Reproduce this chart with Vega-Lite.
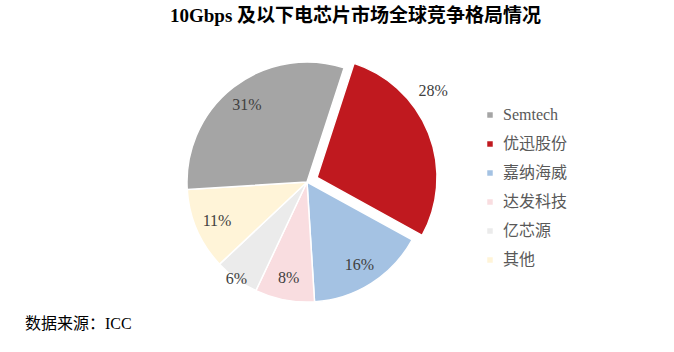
{
  "$schema": "https://vega.github.io/schema/vega-lite/v6.json",
  "padding": {"top": 6, "left": 0, "right": 0, "bottom": 0},
  "background": "white",
  "title": {
    "text": "10Gbps 及以下电芯片市场全球竞争格局情况",
    "font": "Liberation Serif, Noto Sans CJK SC",
    "fontSize": 19,
    "fontWeight": "bold",
    "color": "#000000",
    "anchor": "start",
    "dx": 170,
    "offset": 5
  },
  "data": {
    "values": [
      {"company": "优迅股份", "share": 0.28, "idx": 1},
      {"company": "嘉纳海威", "share": 0.16, "idx": 2},
      {"company": "达发科技", "share": 0.08, "idx": 3},
      {"company": "亿芯源", "share": 0.06, "idx": 4},
      {"company": "其他", "share": 0.11, "idx": 5},
      {"company": "Semtech", "share": 0.31, "idx": 6}
    ]
  },
  "vconcat": [
    {
      "width": 614,
      "height": 250,
      "title": {
        "text": "数据来源：ICC",
        "orient": "bottom",
        "anchor": "start",
        "dx": 25,
        "offset": 8,
        "font": "Liberation Serif, Noto Sans CJK SC",
        "fontSize": 16,
        "fontWeight": "normal",
        "color": "#000000"
      },
      "encoding": {
        "theta": {"field": "share", "type": "quantitative", "stack": true, "scale": {"range": [0.31416, 6.59734]}},
        "order": {"field": "idx", "type": "quantitative"}
      },
      "layer": [
        {
          "mark": {"type": "arc", "outerRadius": 120, "stroke": "white", "strokeWidth": 1.5},
          "encoding": {
            "color": {
              "field": "company",
              "type": "nominal",
              "scale": {
                "domain": ["Semtech", "优迅股份", "嘉纳海威", "达发科技", "亿芯源", "其他"],
                "range": ["#A5A5A5", "#C0191F", "#A4C2E3", "#F9DDE0", "#EBEBEB", "#FFF4D8"]
              },
              "legend": {
                "orient": "none",
                "legendX": 482,
                "legendY": 50,
                "title": null,
                "padding": 0,
                "symbolType": "square",
                "symbolSize": 30,
                "symbolStrokeWidth": 0,
                "labelFont": "Liberation Serif, Noto Sans CJK SC",
                "labelFontSize": 16,
                "labelColor": "#595959",
                "rowPadding": 13,
                "labelOffset": 5
              }
            },
            "opacity": {"condition": {"test": "datum.company === '优迅股份'", "value": 0}, "value": 1}
          }
        },
        {
          "mark": {"type": "arc", "outerRadius": 120, "stroke": "white", "strokeWidth": 1.5, "xOffset": 10, "yOffset": -4.5},
          "encoding": {
            "color": {"field": "company", "type": "nominal"},
            "opacity": {"condition": {"test": "datum.company === '优迅股份'", "value": 1}, "value": 0}
          }
        },
        {
          "mark": {"type": "text", "radius": 98, "font": "Liberation Serif", "fontSize": 16, "color": "#404040", "align": "center", "baseline": "middle"},
          "encoding": {
            "detail": {"field": "company", "type": "nominal"},
            "text": {"field": "share", "type": "quantitative", "format": ".0%"},
            "opacity": {"condition": {"test": "datum.company === 'Semtech' || datum.company === '其他' || datum.company === '嘉纳海威' || datum.company === '达发科技'", "value": 1}, "value": 0}
          }
        },
        {
          "mark": {"type": "text", "radius": 120, "font": "Liberation Serif", "fontSize": 16, "color": "#404040", "align": "center", "baseline": "middle"},
          "encoding": {
            "detail": {"field": "company", "type": "nominal"},
            "text": {"field": "share", "type": "quantitative", "format": ".0%"},
            "opacity": {"condition": {"test": "datum.company === '亿芯源'", "value": 1}, "value": 0}
          }
        },
        {
          "mark": {"type": "text", "radius": 125, "xOffset": 10, "yOffset": -44.5, "font": "Liberation Serif", "fontSize": 16, "color": "#404040", "align": "center", "baseline": "middle"},
          "encoding": {
            "detail": {"field": "company", "type": "nominal"},
            "text": {"field": "share", "type": "quantitative", "format": ".0%"},
            "opacity": {"condition": {"test": "datum.company === '优迅股份'", "value": 1}, "value": 0}
          }
        }
      ]
    }
  ],
  "config": {"view": {"stroke": null}, "concat": {"spacing": 0}}
}
